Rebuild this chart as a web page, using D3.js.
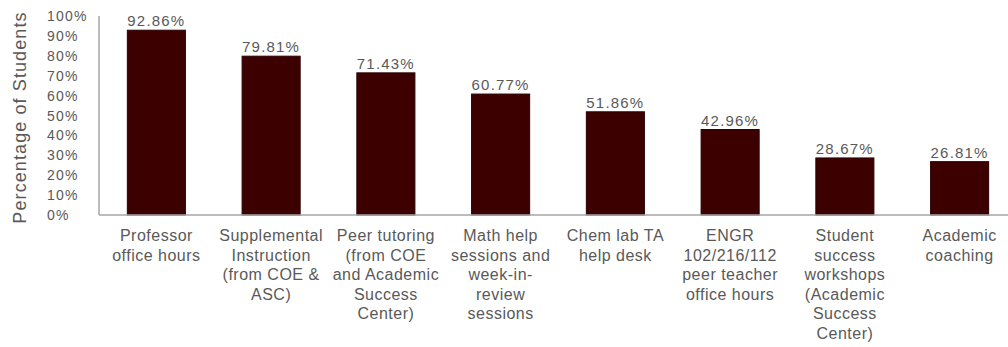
<!DOCTYPE html>
<html>
<head>
<meta charset="utf-8">
<script src="https://cdn.jsdelivr.net/npm/d3@7"></script>
<style>
  html, body { margin: 0; padding: 0; background: #fff; }
  svg { display: block; }
  text { font-family: "Liberation Sans", Arial, sans-serif; fill: #595959; }
</style>
</head>
<body>
<svg id="chart" width="1008" height="347"></svg>
<script>
// Support services used by students
const categories = [
  "Professor office hours",
  "Supplemental Instruction (from COE & ASC)",
  "Peer tutoring (from COE and Academic Success Center)",
  "Math help sessions and week-in-review sessions",
  "Chem lab TA help desk",
  "ENGR 102/216/112 peer teacher office hours",
  "Student success workshops (Academic Success Center)",
  "Academic coaching"
];
const categoryLines = [
  ["Professor", "office hours"],
  ["Supplemental", "Instruction", "(from COE &", "ASC)"],
  ["Peer tutoring", "(from COE", "and Academic", "Success", "Center)"],
  ["Math help", "sessions and", "week-in-", "review", "sessions"],
  ["Chem lab TA", "help desk"],
  ["ENGR", "102/216/112", "peer teacher", "office hours"],
  ["Student", "success", "workshops", "(Academic", "Success", "Center)"],
  ["Academic", "coaching"]
];
const percentages = [92.86, 79.81, 71.43, 60.77, 51.86, 42.96, 28.67, 26.81];
const yTicks = [0, 10, 20, 30, 40, 50, 60, 70, 80, 90, 100];
const yTitle = "Percentage of Students";

const svg = d3.select("#chart");
const x0 = 99, yBase = 215, yTop = 16;

const x = d3.scaleBand()
  .domain(categories)
  .range([x0, 1017])
  .paddingInner(0.494)
  .paddingOuter(0.247);

const y = d3.scaleLinear().domain([0, 100]).range([yBase, yTop]);

// Bars
svg.append("g").selectAll("rect")
  .data(percentages)
  .join("rect")
  .attr("x", (d, i) => x(categories[i]))
  .attr("y", d => y(d))
  .attr("width", x.bandwidth())
  .attr("height", d => y(0) - y(d))
  .attr("fill", "#3c0000")
  .attr("stroke", "#2a0000")
  .attr("stroke-width", 1);

// Value labels
svg.append("g").selectAll("text")
  .data(percentages)
  .join("text")
  .attr("x", (d, i) => x(categories[i]) + x.bandwidth() / 2)
  .attr("y", d => y(d) - 4)
  .attr("text-anchor", "middle")
  .style("font-size", "15px")
  .style("letter-spacing", "1.2px")
  .text(d => d.toFixed(2) + "%");

// Y axis line and left-aligned tick labels
svg.append("line")
  .attr("x1", x0).attr("x2", x0)
  .attr("y1", y(100)).attr("y2", y(0))
  .attr("stroke", "#a6a6a6").attr("stroke-width", 1.5);

svg.append("g").selectAll("text")
  .data(yTicks)
  .join("text")
  .attr("x", 47)
  .attr("y", d => y(d))
  .attr("dy", "0.36em")
  .style("font-size", "14px")
  .style("letter-spacing", "1.2px")
  .text(d => d + "%");

// X axis baseline
svg.append("line")
  .attr("x1", x0).attr("x2", 1008)
  .attr("y1", yBase).attr("y2", yBase)
  .attr("stroke", "#a6a6a6").attr("stroke-width", 1.5);

// Category labels, wrapped onto several lines
const catG = svg.append("g").selectAll("text")
  .data(categories)
  .join("text")
  .attr("text-anchor", "middle")
  .attr("transform", d => `translate(${x(d) + x.bandwidth() / 2},241)`)
  .style("font-size", "16px")
  .style("letter-spacing", "0.5px");

catG.each(function (d, i) {
  d3.select(this).selectAll("tspan")
    .data(categoryLines[i])
    .join("tspan")
    .attr("x", 0)
    .attr("y", (t, j) => j * 19.6)
    .text(t => t);
});

// Y axis title
svg.append("text")
  .attr("transform", `translate(26,${(yTop + yBase) / 2 + 2}) rotate(-90)`)
  .attr("text-anchor", "middle")
  .style("font-size", "18px")
  .style("letter-spacing", "1.1px")
  .text(yTitle);
</script>
</body>
</html>
